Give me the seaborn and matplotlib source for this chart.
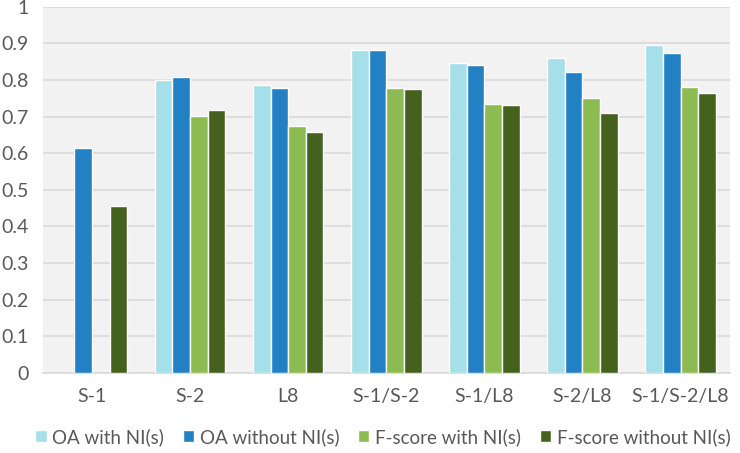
import numpy as np
import pandas as pd
import matplotlib
matplotlib.use("Agg")
import matplotlib.pyplot as plt
import seaborn as sns

categories = ["S-1", "S-2", "L8", "S-1/S-2", "S-1/L8", "S-2/L8", "S-1/S-2/L8"]
series = ["OA with NI(s)", "OA without NI(s)", "F-score with NI(s)", "F-score without NI(s)"]
oa_with = [np.nan, 0.799, 0.787, 0.883, 0.846, 0.860, 0.896]
oa_without = [0.613, 0.809, 0.777, 0.881, 0.842, 0.823, 0.873]
f_with = [np.nan, 0.702, 0.675, 0.777, 0.734, 0.750, 0.780]
f_without = [0.456, 0.718, 0.658, 0.775, 0.731, 0.711, 0.764]
colors = ["#a5dfea", "#2380c2", "#8cbb51", "#44621e"]

rows = []
for name, vals in zip(series, [oa_with, oa_without, f_with, f_without]):
    for c, v in zip(categories, vals):
        rows.append({"cat": c, "series": name, "value": v})
df = pd.DataFrame(rows)

sns.set_style("white")
plt.rcParams["font.family"] = ["Lato", "DejaVu Sans"]
txt = "#595959"

fig = plt.figure(figsize=(7.4, 4.53), dpi=100)
ax = fig.add_axes([0.058, 0.177, 0.928, 0.808])
ax.set_facecolor("#f2f2f2")

sns.barplot(data=df, x="cat", y="value", hue="series", order=categories,
            hue_order=series, palette=colors, width=0.72, gap=0,
            saturation=1, errorbar=None, ax=ax, zorder=3)

ax.set_ylim(0, 1)
ax.set_yticks(np.arange(0, 1.01, 0.1))
ax.set_yticklabels(["0"] + ["%.1f" % v for v in np.arange(0.1, 0.95, 0.1)] + ["1"])
ax.yaxis.grid(True, color="#d9d9d9", linewidth=1.2, zorder=0)
ax.set_axisbelow(True)
for s in ["left", "right", "top"]:
    ax.spines[s].set_visible(False)
ax.spines["bottom"].set_color("#d9d9d9")
ax.spines["bottom"].set_linewidth(1.2)
ax.tick_params(axis="both", length=0, labelsize=14, colors=txt)
ax.tick_params(axis="x", pad=11)
ax.tick_params(axis="y", pad=10)
ax.set_xlabel("")
ax.set_ylabel("")

handles, labels = ax.get_legend_handles_labels()
ax.legend(handles, labels, loc="center", bbox_to_anchor=(0.495, -0.175),
          ncol=4, frameon=False, fontsize=13.5, handlelength=0.6, handleheight=0.6,
          handletextpad=0.3, columnspacing=1.0, labelcolor=txt)

fig.savefig("out.png", dpi=100, facecolor="white")
